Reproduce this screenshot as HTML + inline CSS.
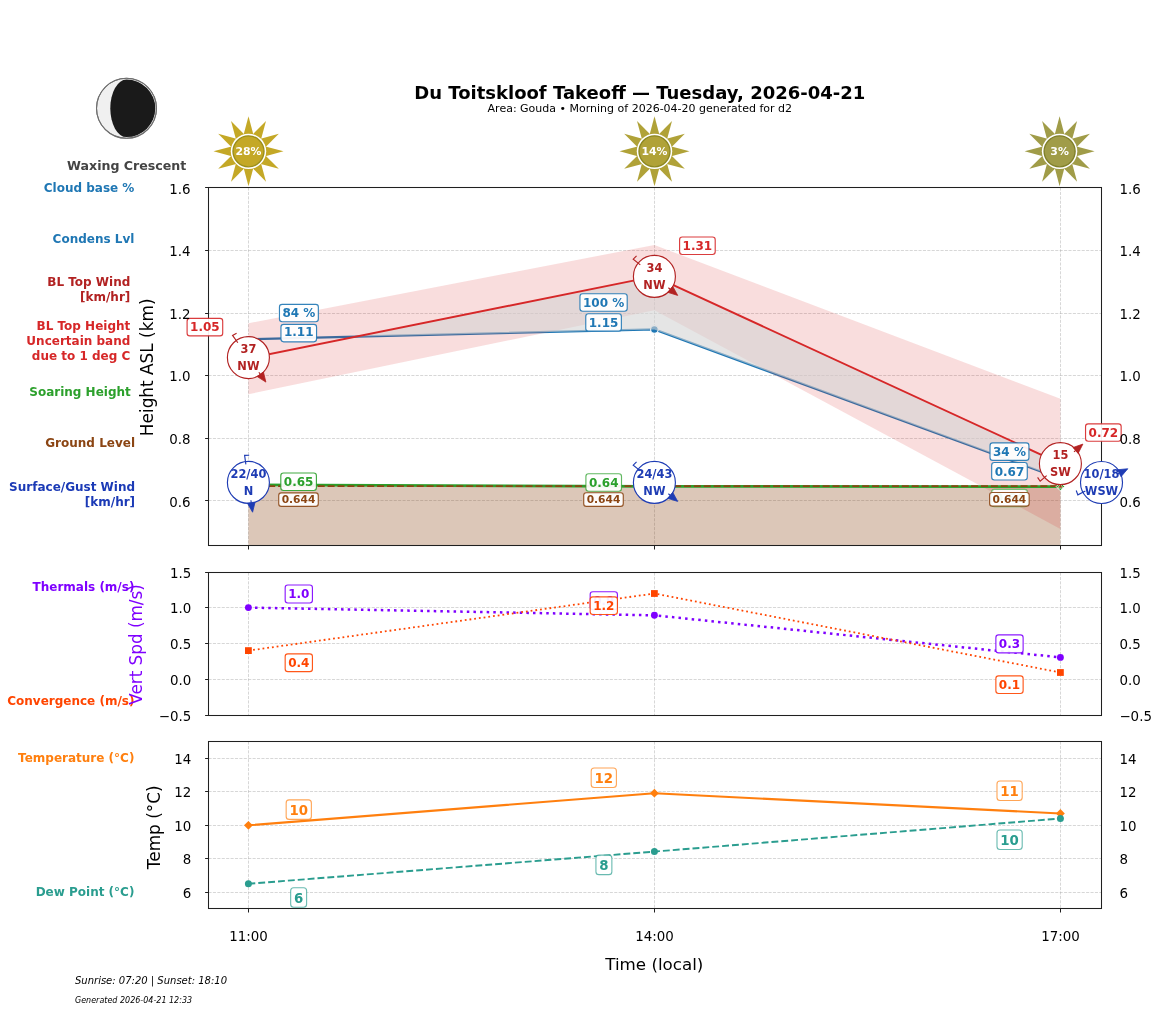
<!DOCTYPE html><html><head><meta charset="utf-8"><title>Du Toitskloof Takeoff</title><style>html,body{margin:0;padding:0;background:#fff}svg{display:block}</style></head><body><svg width="1157" height="1011" viewBox="0 0 1157 1011" font-family='"DejaVu Sans","Liberation Sans",sans-serif'>
<rect width="1157" height="1011" fill="#fff"/>
<text x="639.80" y="99.30" font-size="18" fill="#000" text-anchor="middle" font-weight="bold" font-style="normal" >Du Toitskloof Takeoff — Tuesday, 2026-04-21</text>
<text x="639.80" y="111.90" font-size="11.0" fill="#000" text-anchor="middle" font-weight="normal" font-style="normal" >Area: Gouda • Morning of 2026-04-20 generated for d2</text>
<circle cx="126.5" cy="108.3" r="30.0" fill="#f0f0f0" stroke="#777" stroke-width="1"/>
<path d="M126.5,79.5 A28.8,28.8 0 0 1 126.5,137.1 A16.2,28.8 0 0 1 126.5,79.5 Z" fill="#1a1a1a"/>
<circle cx="126.5" cy="108.3" r="30.0" fill="none" stroke="#6e6e6e" stroke-width="1.1"/>
<text x="126.70" y="170.00" font-size="12.6" fill="#444" text-anchor="middle" font-weight="bold" font-style="normal" >Waxing Crescent</text>
<polygon points="283.50,151.35 263.50,146.05 263.50,156.65" fill="#c4a826"/>
<polygon points="278.81,133.85 258.84,139.26 264.14,148.44" fill="#c4a826"/>
<polygon points="266.00,121.04 251.41,135.71 260.59,141.01" fill="#c4a826"/>
<polygon points="248.50,116.35 243.20,136.35 253.80,136.35" fill="#c4a826"/>
<polygon points="231.00,121.04 236.41,141.01 245.59,135.71" fill="#c4a826"/>
<polygon points="218.19,133.85 232.86,148.44 238.16,139.26" fill="#c4a826"/>
<polygon points="213.50,151.35 233.50,156.65 233.50,146.05" fill="#c4a826"/>
<polygon points="218.19,168.85 238.16,163.44 232.86,154.26" fill="#c4a826"/>
<polygon points="231.00,181.66 245.59,166.99 236.41,161.69" fill="#c4a826"/>
<polygon points="248.50,186.35 253.80,166.35 243.20,166.35" fill="#c4a826"/>
<polygon points="266.00,181.66 260.59,161.69 251.41,166.99" fill="#c4a826"/>
<polygon points="278.81,168.85 264.14,154.26 258.84,163.44" fill="#c4a826"/>
<circle cx="248.5" cy="151.35" r="17.7" fill="#fff"/>
<circle cx="248.5" cy="151.35" r="15.5" fill="#c4a826" stroke="#9a8e1c" stroke-width="1.4"/>
<text x="248.50" y="155.35" font-size="10.9" fill="#fff" text-anchor="middle" font-weight="bold" font-style="normal" >28%</text>
<polygon points="689.50,151.35 669.50,146.05 669.50,156.65" fill="#b0a238"/>
<polygon points="684.81,133.85 664.84,139.26 670.14,148.44" fill="#b0a238"/>
<polygon points="672.00,121.04 657.41,135.71 666.59,141.01" fill="#b0a238"/>
<polygon points="654.50,116.35 649.20,136.35 659.80,136.35" fill="#b0a238"/>
<polygon points="637.00,121.04 642.41,141.01 651.59,135.71" fill="#b0a238"/>
<polygon points="624.19,133.85 638.86,148.44 644.16,139.26" fill="#b0a238"/>
<polygon points="619.50,151.35 639.50,156.65 639.50,146.05" fill="#b0a238"/>
<polygon points="624.19,168.85 644.16,163.44 638.86,154.26" fill="#b0a238"/>
<polygon points="637.00,181.66 651.59,166.99 642.41,161.69" fill="#b0a238"/>
<polygon points="654.50,186.35 659.80,166.35 649.20,166.35" fill="#b0a238"/>
<polygon points="672.00,181.66 666.59,161.69 657.41,166.99" fill="#b0a238"/>
<polygon points="684.81,168.85 670.14,154.26 664.84,163.44" fill="#b0a238"/>
<circle cx="654.5" cy="151.35" r="17.7" fill="#fff"/>
<circle cx="654.5" cy="151.35" r="15.5" fill="#b0a238" stroke="#8c8722" stroke-width="1.4"/>
<text x="654.50" y="155.35" font-size="10.9" fill="#fff" text-anchor="middle" font-weight="bold" font-style="normal" >14%</text>
<polygon points="1094.60,151.35 1074.60,146.05 1074.60,156.65" fill="#a09c48"/>
<polygon points="1089.91,133.85 1069.94,139.26 1075.24,148.44" fill="#a09c48"/>
<polygon points="1077.10,121.04 1062.51,135.71 1071.69,141.01" fill="#a09c48"/>
<polygon points="1059.60,116.35 1054.30,136.35 1064.90,136.35" fill="#a09c48"/>
<polygon points="1042.10,121.04 1047.51,141.01 1056.69,135.71" fill="#a09c48"/>
<polygon points="1029.29,133.85 1043.96,148.44 1049.26,139.26" fill="#a09c48"/>
<polygon points="1024.60,151.35 1044.60,156.65 1044.60,146.05" fill="#a09c48"/>
<polygon points="1029.29,168.85 1049.26,163.44 1043.96,154.26" fill="#a09c48"/>
<polygon points="1042.10,181.66 1056.69,166.99 1047.51,161.69" fill="#a09c48"/>
<polygon points="1059.60,186.35 1064.90,166.35 1054.30,166.35" fill="#a09c48"/>
<polygon points="1077.10,181.66 1071.69,161.69 1062.51,166.99" fill="#a09c48"/>
<polygon points="1089.91,168.85 1075.24,154.26 1069.94,163.44" fill="#a09c48"/>
<circle cx="1059.6" cy="151.35" r="17.7" fill="#fff"/>
<circle cx="1059.6" cy="151.35" r="15.5" fill="#a09c48" stroke="#80802a" stroke-width="1.4"/>
<text x="1059.60" y="155.35" font-size="10.9" fill="#fff" text-anchor="middle" font-weight="bold" font-style="normal" >3%</text>
<text x="134.40" y="191.90" font-size="12" fill="#1f77b4" text-anchor="end" font-weight="bold" font-style="normal" >Cloud base %</text>
<text x="134.40" y="243.00" font-size="12" fill="#1f77b4" text-anchor="end" font-weight="bold" font-style="normal" >Condens Lvl</text>
<text x="130.30" y="285.60" font-size="12" fill="#b22222" text-anchor="end" font-weight="bold" font-style="normal" >BL Top Wind</text>
<text x="130.30" y="301.30" font-size="12" fill="#b22222" text-anchor="end" font-weight="bold" font-style="normal" >[km/hr]</text>
<text x="130.30" y="329.70" font-size="12" fill="#d62728" text-anchor="end" font-weight="bold" font-style="normal" >BL Top Height</text>
<text x="130.30" y="344.50" font-size="12" fill="#d62728" text-anchor="end" font-weight="bold" font-style="normal" >Uncertain band</text>
<text x="130.30" y="359.80" font-size="12" fill="#d62728" text-anchor="end" font-weight="bold" font-style="normal" >due to 1 deg C</text>
<text x="130.80" y="395.80" font-size="12" fill="#2ca02c" text-anchor="end" font-weight="bold" font-style="normal" >Soaring Height</text>
<text x="135.00" y="446.80" font-size="12" fill="#8b4513" text-anchor="end" font-weight="bold" font-style="normal" >Ground Level</text>
<text x="135.10" y="490.90" font-size="12" fill="#1b3ab6" text-anchor="end" font-weight="bold" font-style="normal" >Surface/Gust Wind</text>
<text x="135.10" y="505.90" font-size="12" fill="#1b3ab6" text-anchor="end" font-weight="bold" font-style="normal" >[km/hr]</text>
<text x="134.40" y="590.80" font-size="12" fill="#7f00ff" text-anchor="end" font-weight="bold" font-style="normal" >Thermals (m/s)</text>
<text x="134.40" y="704.80" font-size="12" fill="#ff4500" text-anchor="end" font-weight="bold" font-style="normal" >Convergence (m/s)</text>
<text x="134.40" y="761.80" font-size="12" fill="#ff7f0e" text-anchor="end" font-weight="bold" font-style="normal" >Temperature (°C)</text>
<text x="134.40" y="895.60" font-size="12" fill="#2a9d8f" text-anchor="end" font-weight="bold" font-style="normal" >Dew Point (°C)</text>
<line x1="248.50" y1="187.50" x2="248.50" y2="545.50" stroke="#b0b0b0" stroke-width="0.85" stroke-dasharray="3.08 1.33" stroke-opacity="0.6"/>
<line x1="654.50" y1="187.50" x2="654.50" y2="545.50" stroke="#b0b0b0" stroke-width="0.85" stroke-dasharray="3.08 1.33" stroke-opacity="0.6"/>
<line x1="1060.50" y1="187.50" x2="1060.50" y2="545.50" stroke="#b0b0b0" stroke-width="0.85" stroke-dasharray="3.08 1.33" stroke-opacity="0.6"/>
<line x1="208.50" y1="500.50" x2="1101.50" y2="500.50" stroke="#b0b0b0" stroke-width="0.85" stroke-dasharray="3.08 1.33" stroke-opacity="0.6"/>
<line x1="208.50" y1="438.50" x2="1101.50" y2="438.50" stroke="#b0b0b0" stroke-width="0.85" stroke-dasharray="3.08 1.33" stroke-opacity="0.6"/>
<line x1="208.50" y1="375.50" x2="1101.50" y2="375.50" stroke="#b0b0b0" stroke-width="0.85" stroke-dasharray="3.08 1.33" stroke-opacity="0.6"/>
<line x1="208.50" y1="313.50" x2="1101.50" y2="313.50" stroke="#b0b0b0" stroke-width="0.85" stroke-dasharray="3.08 1.33" stroke-opacity="0.6"/>
<line x1="208.50" y1="250.50" x2="1101.50" y2="250.50" stroke="#b0b0b0" stroke-width="0.85" stroke-dasharray="3.08 1.33" stroke-opacity="0.6"/>
<line x1="208.50" y1="187.50" x2="1101.50" y2="187.50" stroke="#b0b0b0" stroke-width="0.85" stroke-dasharray="3.08 1.33" stroke-opacity="0.6"/>
<clipPath id="cm"><rect x="208.5" y="187.5" width="893.0" height="358.0"/></clipPath>
<g clip-path="url(#cm)">
<rect x="248.4" y="486.30" width="812.0000000000001" height="64.20" fill="#8b4513" fill-opacity="0.30"/>
<polyline points="248.4,339.2 654.4,329.4 1060.4,478.7" fill="none" stroke="#1f77b4" stroke-width="2.2" stroke-linejoin="round" />
<circle cx="248.4" cy="339.2" r="3.8" fill="#1f77b4" stroke="#fff" stroke-width="1.1"/>
<circle cx="654.4" cy="329.4" r="3.8" fill="#1f77b4" stroke="#fff" stroke-width="1.1"/>
<circle cx="1060.4" cy="478.7" r="3.8" fill="#1f77b4" stroke="#fff" stroke-width="1.1"/>
<polygon points="248.4,323.3 654.4,245.0 1060.4,398.8 1060.4,528.9 654.4,310.2 248.4,394.2" fill="#d62728" fill-opacity="0.155"/>
<polygon points="356.8,336.6 654.4,276.4 1060.4,463.6 1060.4,478.7 654.4,329.4" fill="#d3d3d3" fill-opacity="0.6"/>
<polyline points="248.4,358.5 654.4,276.4 1060.4,463.6" fill="none" stroke="#d62728" stroke-width="1.95" stroke-linejoin="round" />
<polyline points="248.4,484.9 654.4,486.4 1060.4,486.6" fill="none" stroke="#2ca02c" stroke-width="2.7" stroke-linejoin="round" />
<polyline points="248.4,486.1 1060.4,486.1" fill="none" stroke="#8b4513" stroke-width="1.6" stroke-linejoin="round" stroke-dasharray="7.0 2.9"/>
</g>
<polygon points="244.20,484.90 248.40,480.70 252.60,484.90 248.40,489.10" fill="#2ca02c" stroke="#fff" stroke-width="0.9"/>
<polygon points="650.20,486.40 654.40,482.20 658.60,486.40 654.40,490.60" fill="#2ca02c" stroke="#fff" stroke-width="0.9"/>
<polygon points="1056.20,486.60 1060.40,482.40 1064.60,486.60 1060.40,490.80" fill="#2ca02c" stroke="#fff" stroke-width="0.9"/>
<polygon points="245.80,488.10 248.40,483.70 251.00,488.10" fill="#8b4513" stroke="#fff" stroke-width="0.6"/>
<polygon points="651.80,488.10 654.40,483.70 657.00,488.10" fill="#8b4513" stroke="#fff" stroke-width="0.6"/>
<polygon points="1057.80,488.10 1060.40,483.70 1063.00,488.10" fill="#8b4513" stroke="#fff" stroke-width="0.6"/>
<rect x="208.5" y="187.5" width="893.0" height="358.0" fill="none" stroke="#202020" stroke-width="1.05"/>
<line x1="248.50" y1="545.50" x2="248.50" y2="549.50" stroke="#202020" stroke-width="1.05" />
<line x1="654.50" y1="545.50" x2="654.50" y2="549.50" stroke="#202020" stroke-width="1.05" />
<line x1="1060.50" y1="545.50" x2="1060.50" y2="549.50" stroke="#202020" stroke-width="1.05" />
<line x1="205.10" y1="500.50" x2="208.50" y2="500.50" stroke="#202020" stroke-width="1.05" />
<line x1="205.10" y1="438.50" x2="208.50" y2="438.50" stroke="#202020" stroke-width="1.05" />
<line x1="205.10" y1="375.50" x2="208.50" y2="375.50" stroke="#202020" stroke-width="1.05" />
<line x1="205.10" y1="313.50" x2="208.50" y2="313.50" stroke="#202020" stroke-width="1.05" />
<line x1="205.10" y1="250.50" x2="208.50" y2="250.50" stroke="#202020" stroke-width="1.05" />
<line x1="205.10" y1="187.50" x2="208.50" y2="187.50" stroke="#202020" stroke-width="1.05" />
<rect x="279.45" y="304.33" width="38.90" height="17.42" rx="2.70" fill="#fff" fill-opacity="0.93" stroke="#1f77b4" stroke-opacity="0.9" stroke-width="1.15"/>
<text x="298.90" y="316.50" font-size="12.0" fill="#1f77b4" text-anchor="middle" font-weight="bold" font-style="normal" >84 %</text>
<rect x="280.95" y="324.38" width="35.61" height="17.42" rx="2.70" fill="#fff" fill-opacity="0.93" stroke="#1f77b4" stroke-opacity="0.9" stroke-width="1.15"/>
<text x="298.75" y="336.45" font-size="12.0" fill="#1f77b4" text-anchor="middle" font-weight="bold" font-style="normal" >1.11</text>
<rect x="187.10" y="318.43" width="35.61" height="17.42" rx="2.70" fill="#fff" fill-opacity="0.93" stroke="#d62728" stroke-opacity="0.9" stroke-width="1.15"/>
<text x="204.90" y="330.50" font-size="12.0" fill="#d62728" text-anchor="middle" font-weight="bold" font-style="normal" >1.05</text>
<rect x="579.95" y="293.78" width="47.25" height="17.42" rx="2.70" fill="#fff" fill-opacity="0.93" stroke="#1f77b4" stroke-opacity="0.9" stroke-width="1.15"/>
<text x="603.57" y="306.75" font-size="12.0" fill="#1f77b4" text-anchor="middle" font-weight="bold" font-style="normal" >100 %</text>
<rect x="585.76" y="313.73" width="35.61" height="17.42" rx="2.70" fill="#fff" fill-opacity="0.93" stroke="#1f77b4" stroke-opacity="0.9" stroke-width="1.15"/>
<text x="603.56" y="326.70" font-size="12.0" fill="#1f77b4" text-anchor="middle" font-weight="bold" font-style="normal" >1.15</text>
<rect x="679.60" y="237.03" width="35.61" height="17.42" rx="2.70" fill="#fff" fill-opacity="0.93" stroke="#d62728" stroke-opacity="0.9" stroke-width="1.15"/>
<text x="697.40" y="250.00" font-size="12.0" fill="#d62728" text-anchor="middle" font-weight="bold" font-style="normal" >1.31</text>
<rect x="990.02" y="442.93" width="38.90" height="17.42" rx="2.70" fill="#fff" fill-opacity="0.93" stroke="#1f77b4" stroke-opacity="0.9" stroke-width="1.15"/>
<text x="1009.47" y="455.90" font-size="12.0" fill="#1f77b4" text-anchor="middle" font-weight="bold" font-style="normal" >34 %</text>
<rect x="991.67" y="462.53" width="35.61" height="17.42" rx="2.70" fill="#fff" fill-opacity="0.93" stroke="#1f77b4" stroke-opacity="0.9" stroke-width="1.15"/>
<text x="1009.47" y="475.50" font-size="12.0" fill="#1f77b4" text-anchor="middle" font-weight="bold" font-style="normal" >0.67</text>
<rect x="1085.55" y="423.83" width="35.61" height="17.42" rx="2.70" fill="#fff" fill-opacity="0.93" stroke="#d62728" stroke-opacity="0.9" stroke-width="1.15"/>
<text x="1103.35" y="436.80" font-size="12.0" fill="#d62728" text-anchor="middle" font-weight="bold" font-style="normal" >0.72</text>
<rect x="280.80" y="473.03" width="35.61" height="17.42" rx="2.70" fill="#fff" fill-opacity="0.93" stroke="#2ca02c" stroke-opacity="0.9" stroke-width="1.15"/>
<text x="298.60" y="486.00" font-size="12.0" fill="#2ca02c" text-anchor="middle" font-weight="bold" font-style="normal" >0.65</text>
<rect x="585.90" y="473.78" width="35.61" height="17.42" rx="2.70" fill="#fff" fill-opacity="0.93" stroke="#2ca02c" stroke-opacity="0.75" stroke-width="1.15"/>
<text x="603.70" y="486.75" font-size="12.0" fill="#2ca02c" text-anchor="middle" font-weight="bold" font-style="normal" >0.64</text>
<rect x="991.70" y="489.33" width="35.61" height="17.42" rx="2.70" fill="#fff" fill-opacity="0.93" stroke="#2ca02c" stroke-opacity="0.6" stroke-width="1.15"/>
<text x="1009.50" y="502.30" font-size="12.0" fill="#2ca02c" text-anchor="middle" font-weight="bold" font-style="normal" >0.64</text>
<rect x="278.72" y="492.80" width="39.55" height="13.60" rx="2.60" fill="#fff" fill-opacity="0.93" stroke="#8b4513" stroke-opacity="0.9" stroke-width="1.15"/>
<text x="298.50" y="502.90" font-size="10.67" fill="#8b4513" text-anchor="middle" font-weight="bold" font-style="normal" >0.644</text>
<rect x="583.72" y="492.70" width="39.55" height="13.60" rx="2.60" fill="#fff" fill-opacity="0.93" stroke="#8b4513" stroke-opacity="0.9" stroke-width="1.15"/>
<text x="603.50" y="502.80" font-size="10.67" fill="#8b4513" text-anchor="middle" font-weight="bold" font-style="normal" >0.644</text>
<rect x="989.62" y="492.50" width="39.55" height="13.60" rx="2.60" fill="#fff" fill-opacity="0.93" stroke="#8b4513" stroke-opacity="0.9" stroke-width="1.15"/>
<text x="1009.40" y="502.60" font-size="10.67" fill="#8b4513" text-anchor="middle" font-weight="bold" font-style="normal" >0.644</text>
<circle cx="248.40" cy="357.60" r="21.0" fill="#fff" stroke="#b22222" stroke-width="1.15"/>
<polyline points="237.83,342.78 232.55,335.37 236.59,333.18" fill="none" stroke="#b22222" stroke-width="1.15" stroke-linejoin="miter"/>
<line x1="258.85" y1="372.25" x2="260.25" y2="374.21" stroke="#b22222" stroke-width="1.15"/>
<polygon points="265.88,382.10 257.07,376.47 263.42,371.94" fill="#b22222" stroke="#b22222" stroke-width="0.8" stroke-linejoin="miter"/>
<text x="248.40" y="353.30" font-size="11.4" fill="#b22222" text-anchor="middle" font-weight="bold" font-style="normal" >37</text>
<text x="248.40" y="370.05" font-size="11.4" fill="#b22222" text-anchor="middle" font-weight="bold" font-style="normal" >NW</text>
<circle cx="654.40" cy="276.40" r="21.0" fill="#fff" stroke="#b22222" stroke-width="1.15"/>
<polyline points="640.30,264.90 633.24,259.15 636.56,255.96" fill="none" stroke="#b22222" stroke-width="1.15" stroke-linejoin="miter"/>
<line x1="668.35" y1="287.78" x2="670.21" y2="289.29" stroke="#b22222" stroke-width="1.15"/>
<polygon points="677.73,295.42 667.74,292.32 672.67,286.27" fill="#b22222" stroke="#b22222" stroke-width="0.8" stroke-linejoin="miter"/>
<text x="654.40" y="272.10" font-size="11.4" fill="#b22222" text-anchor="middle" font-weight="bold" font-style="normal" >34</text>
<text x="654.40" y="288.85" font-size="11.4" fill="#b22222" text-anchor="middle" font-weight="bold" font-style="normal" >NW</text>
<circle cx="1060.40" cy="463.65" r="21.0" fill="#fff" stroke="#b22222" stroke-width="1.15"/>
<polyline points="1046.66,475.59 1040.17,481.23 1037.60,477.42" fill="none" stroke="#b22222" stroke-width="1.15" stroke-linejoin="miter"/>
<line x1="1073.98" y1="451.84" x2="1075.57" y2="450.46" stroke="#b22222" stroke-width="1.15"/>
<polygon points="1082.89,444.10 1078.13,453.41 1073.01,447.52" fill="#b22222" stroke="#b22222" stroke-width="0.8" stroke-linejoin="miter"/>
<text x="1060.40" y="459.35" font-size="11.4" fill="#b22222" text-anchor="middle" font-weight="bold" font-style="normal" >15</text>
<text x="1060.40" y="476.10" font-size="11.4" fill="#b22222" text-anchor="middle" font-weight="bold" font-style="normal" >SW</text>
<circle cx="248.40" cy="482.40" r="21.0" fill="#fff" stroke="#1e3cb4" stroke-width="1.15"/>
<polyline points="245.87,464.38 244.60,455.37 249.20,455.29" fill="none" stroke="#1e3cb4" stroke-width="1.15" stroke-linejoin="miter"/>
<line x1="250.91" y1="500.22" x2="251.24" y2="502.60" stroke="#1e3cb4" stroke-width="1.15"/>
<polygon points="252.59,512.21 247.38,503.14 255.10,502.06" fill="#1e3cb4" stroke="#1e3cb4" stroke-width="0.8" stroke-linejoin="miter"/>
<text x="248.40" y="478.10" font-size="11.4" fill="#1e3cb4" text-anchor="middle" font-weight="bold" font-style="normal" >22/40</text>
<text x="248.40" y="494.85" font-size="11.4" fill="#1e3cb4" text-anchor="middle" font-weight="bold" font-style="normal" >N</text>
<circle cx="654.40" cy="482.40" r="21.0" fill="#fff" stroke="#1e3cb4" stroke-width="1.15"/>
<polyline points="640.30,470.90 633.24,465.15 636.56,461.96" fill="none" stroke="#1e3cb4" stroke-width="1.15" stroke-linejoin="miter"/>
<line x1="668.35" y1="493.78" x2="670.21" y2="495.29" stroke="#1e3cb4" stroke-width="1.15"/>
<polygon points="677.73,501.42 667.74,498.32 672.67,492.27" fill="#1e3cb4" stroke="#1e3cb4" stroke-width="0.8" stroke-linejoin="miter"/>
<text x="654.40" y="478.10" font-size="11.4" fill="#1e3cb4" text-anchor="middle" font-weight="bold" font-style="normal" >24/43</text>
<text x="654.40" y="494.85" font-size="11.4" fill="#1e3cb4" text-anchor="middle" font-weight="bold" font-style="normal" >NW</text>
<circle cx="1101.50" cy="482.50" r="21.0" fill="#fff" stroke="#1e3cb4" stroke-width="1.15"/>
<polyline points="1085.37,490.93 1077.84,494.87 1076.22,490.56" fill="none" stroke="#1e3cb4" stroke-width="1.15" stroke-linejoin="miter"/>
<line x1="1117.45" y1="474.16" x2="1119.22" y2="473.23" stroke="#1e3cb4" stroke-width="1.15"/>
<polygon points="1127.82,468.74 1121.03,476.69 1117.42,469.78" fill="#1e3cb4" stroke="#1e3cb4" stroke-width="0.8" stroke-linejoin="miter"/>
<text x="1101.50" y="478.20" font-size="11.4" fill="#1e3cb4" text-anchor="middle" font-weight="bold" font-style="normal" >10/18</text>
<text x="1101.50" y="494.95" font-size="11.4" fill="#1e3cb4" text-anchor="middle" font-weight="bold" font-style="normal" >WSW</text>
<text x="190.50" y="506.70" font-size="13.4" fill="#000" text-anchor="end" font-weight="normal" font-style="normal" >0.6</text>
<text x="1119.40" y="506.70" font-size="13.4" fill="#000" text-anchor="start" font-weight="normal" font-style="normal" >0.6</text>
<text x="190.50" y="443.70" font-size="13.4" fill="#000" text-anchor="end" font-weight="normal" font-style="normal" >0.8</text>
<text x="1119.40" y="443.70" font-size="13.4" fill="#000" text-anchor="start" font-weight="normal" font-style="normal" >0.8</text>
<text x="190.50" y="380.70" font-size="13.4" fill="#000" text-anchor="end" font-weight="normal" font-style="normal" >1.0</text>
<text x="1119.40" y="380.70" font-size="13.4" fill="#000" text-anchor="start" font-weight="normal" font-style="normal" >1.0</text>
<text x="190.50" y="318.70" font-size="13.4" fill="#000" text-anchor="end" font-weight="normal" font-style="normal" >1.2</text>
<text x="1119.40" y="318.70" font-size="13.4" fill="#000" text-anchor="start" font-weight="normal" font-style="normal" >1.2</text>
<text x="190.50" y="255.70" font-size="13.4" fill="#000" text-anchor="end" font-weight="normal" font-style="normal" >1.4</text>
<text x="1119.40" y="255.70" font-size="13.4" fill="#000" text-anchor="start" font-weight="normal" font-style="normal" >1.4</text>
<text x="190.50" y="193.50" font-size="13.4" fill="#000" text-anchor="end" font-weight="normal" font-style="normal" >1.6</text>
<text x="1119.40" y="193.50" font-size="13.4" fill="#000" text-anchor="start" font-weight="normal" font-style="normal" >1.6</text>
<text transform="translate(152.6,367.3) rotate(-90)" font-size="16.9" text-anchor="middle">Height ASL (km)</text>
<line x1="248.50" y1="572.50" x2="248.50" y2="715.50" stroke="#b0b0b0" stroke-width="0.85" stroke-dasharray="3.08 1.33" stroke-opacity="0.6"/>
<line x1="654.50" y1="572.50" x2="654.50" y2="715.50" stroke="#b0b0b0" stroke-width="0.85" stroke-dasharray="3.08 1.33" stroke-opacity="0.6"/>
<line x1="1060.50" y1="572.50" x2="1060.50" y2="715.50" stroke="#b0b0b0" stroke-width="0.85" stroke-dasharray="3.08 1.33" stroke-opacity="0.6"/>
<line x1="208.50" y1="715.50" x2="1101.50" y2="715.50" stroke="#b0b0b0" stroke-width="0.85" stroke-dasharray="3.08 1.33" stroke-opacity="0.6"/>
<line x1="208.50" y1="679.50" x2="1101.50" y2="679.50" stroke="#b0b0b0" stroke-width="0.85" stroke-dasharray="3.08 1.33" stroke-opacity="0.6"/>
<line x1="208.50" y1="643.50" x2="1101.50" y2="643.50" stroke="#b0b0b0" stroke-width="0.85" stroke-dasharray="3.08 1.33" stroke-opacity="0.6"/>
<line x1="208.50" y1="607.50" x2="1101.50" y2="607.50" stroke="#b0b0b0" stroke-width="0.85" stroke-dasharray="3.08 1.33" stroke-opacity="0.6"/>
<line x1="208.50" y1="572.50" x2="1101.50" y2="572.50" stroke="#b0b0b0" stroke-width="0.85" stroke-dasharray="3.08 1.33" stroke-opacity="0.6"/>
<polyline points="248.4,607.6 654.4,615.3 1060.4,657.4" fill="none" stroke="#7f00ff" stroke-width="2.5" stroke-linejoin="round" stroke-dasharray="2.5 4.12"/>
<polyline points="248.4,650.6 654.4,593.5 1060.4,672.5" fill="none" stroke="#ff4500" stroke-width="1.8" stroke-linejoin="round" stroke-dasharray="1.8 2.95"/>
<circle cx="248.4" cy="607.60" r="3.45" fill="#7f00ff"/>
<circle cx="654.4" cy="615.30" r="3.45" fill="#7f00ff"/>
<circle cx="1060.4" cy="657.40" r="3.45" fill="#7f00ff"/>
<rect x="245.00" y="647.20" width="6.8" height="6.8" fill="#ff4500"/>
<rect x="651.00" y="590.10" width="6.8" height="6.8" fill="#ff4500"/>
<rect x="1057.00" y="669.10" width="6.8" height="6.8" fill="#ff4500"/>
<rect x="208.5" y="572.5" width="893.0" height="143.0" fill="none" stroke="#202020" stroke-width="1.05"/>
<line x1="205.10" y1="715.50" x2="208.50" y2="715.50" stroke="#202020" stroke-width="1.05" />
<line x1="205.10" y1="679.50" x2="208.50" y2="679.50" stroke="#202020" stroke-width="1.05" />
<line x1="205.10" y1="643.50" x2="208.50" y2="643.50" stroke="#202020" stroke-width="1.05" />
<line x1="205.10" y1="607.50" x2="208.50" y2="607.50" stroke="#202020" stroke-width="1.05" />
<line x1="205.10" y1="572.50" x2="208.50" y2="572.50" stroke="#202020" stroke-width="1.05" />
<rect x="285.17" y="585.03" width="27.26" height="17.97" rx="2.70" fill="#fff" fill-opacity="0.93" stroke="#7f00ff" stroke-opacity="0.9" stroke-width="1.15"/>
<text x="298.80" y="598.00" font-size="12.0" fill="#7f00ff" text-anchor="middle" font-weight="bold" font-style="normal" >1.0</text>
<rect x="590.17" y="591.73" width="27.26" height="17.97" rx="2.70" fill="#fff" fill-opacity="0.93" stroke="#7f00ff" stroke-opacity="0.9" stroke-width="1.15"/>
<text x="603.80" y="604.70" font-size="12.0" fill="#7f00ff" text-anchor="middle" font-weight="bold" font-style="normal" >0.9</text>
<rect x="995.87" y="634.93" width="27.26" height="17.97" rx="2.70" fill="#fff" fill-opacity="0.93" stroke="#7f00ff" stroke-opacity="0.9" stroke-width="1.15"/>
<text x="1009.50" y="647.90" font-size="12.0" fill="#7f00ff" text-anchor="middle" font-weight="bold" font-style="normal" >0.3</text>
<rect x="285.17" y="653.83" width="27.26" height="17.77" rx="2.70" fill="#fff" fill-opacity="0.93" stroke="#ff4500" stroke-opacity="0.9" stroke-width="1.15"/>
<text x="298.80" y="666.80" font-size="12.0" fill="#ff4500" text-anchor="middle" font-weight="bold" font-style="normal" >0.4</text>
<rect x="590.17" y="596.83" width="27.26" height="17.67" rx="2.70" fill="#fff" fill-opacity="0.93" stroke="#ff4500" stroke-opacity="0.9" stroke-width="1.15"/>
<text x="603.80" y="609.80" font-size="12.0" fill="#ff4500" text-anchor="middle" font-weight="bold" font-style="normal" >1.2</text>
<rect x="995.87" y="675.83" width="27.26" height="17.67" rx="2.70" fill="#fff" fill-opacity="0.93" stroke="#ff4500" stroke-opacity="0.9" stroke-width="1.15"/>
<text x="1009.50" y="688.80" font-size="12.0" fill="#ff4500" text-anchor="middle" font-weight="bold" font-style="normal" >0.1</text>
<text x="191.30" y="720.70" font-size="13.4" fill="#000" text-anchor="end" font-weight="normal" font-style="normal" >−0.5</text>
<text x="1119.40" y="720.70" font-size="13.4" fill="#000" text-anchor="start" font-weight="normal" font-style="normal" >−0.5</text>
<text x="191.30" y="684.70" font-size="13.4" fill="#000" text-anchor="end" font-weight="normal" font-style="normal" >0.0</text>
<text x="1119.40" y="684.70" font-size="13.4" fill="#000" text-anchor="start" font-weight="normal" font-style="normal" >0.0</text>
<text x="191.30" y="648.70" font-size="13.4" fill="#000" text-anchor="end" font-weight="normal" font-style="normal" >0.5</text>
<text x="1119.40" y="648.70" font-size="13.4" fill="#000" text-anchor="start" font-weight="normal" font-style="normal" >0.5</text>
<text x="191.30" y="612.70" font-size="13.4" fill="#000" text-anchor="end" font-weight="normal" font-style="normal" >1.0</text>
<text x="1119.40" y="612.70" font-size="13.4" fill="#000" text-anchor="start" font-weight="normal" font-style="normal" >1.0</text>
<text x="191.30" y="577.70" font-size="13.4" fill="#000" text-anchor="end" font-weight="normal" font-style="normal" >1.5</text>
<text x="1119.40" y="577.70" font-size="13.4" fill="#000" text-anchor="start" font-weight="normal" font-style="normal" >1.5</text>
<text transform="translate(141.8,644.5) rotate(-90)" font-size="16.8" text-anchor="middle" fill="#7f00ff">Vert Spd (m/s)</text>
<line x1="248.50" y1="741.50" x2="248.50" y2="908.50" stroke="#b0b0b0" stroke-width="0.85" stroke-dasharray="3.08 1.33" stroke-opacity="0.6"/>
<line x1="654.50" y1="741.50" x2="654.50" y2="908.50" stroke="#b0b0b0" stroke-width="0.85" stroke-dasharray="3.08 1.33" stroke-opacity="0.6"/>
<line x1="1060.50" y1="741.50" x2="1060.50" y2="908.50" stroke="#b0b0b0" stroke-width="0.85" stroke-dasharray="3.08 1.33" stroke-opacity="0.6"/>
<line x1="208.50" y1="892.50" x2="1101.50" y2="892.50" stroke="#b0b0b0" stroke-width="0.85" stroke-dasharray="3.08 1.33" stroke-opacity="0.6"/>
<line x1="208.50" y1="858.50" x2="1101.50" y2="858.50" stroke="#b0b0b0" stroke-width="0.85" stroke-dasharray="3.08 1.33" stroke-opacity="0.6"/>
<line x1="208.50" y1="825.50" x2="1101.50" y2="825.50" stroke="#b0b0b0" stroke-width="0.85" stroke-dasharray="3.08 1.33" stroke-opacity="0.6"/>
<line x1="208.50" y1="791.50" x2="1101.50" y2="791.50" stroke="#b0b0b0" stroke-width="0.85" stroke-dasharray="3.08 1.33" stroke-opacity="0.6"/>
<line x1="208.50" y1="758.50" x2="1101.50" y2="758.50" stroke="#b0b0b0" stroke-width="0.85" stroke-dasharray="3.08 1.33" stroke-opacity="0.6"/>
<polyline points="248.4,883.8 654.4,851.6 1060.4,818.5" fill="none" stroke="#2a9d8f" stroke-width="1.9" stroke-linejoin="round" stroke-dasharray="6.9 3.0"/>
<polyline points="248.4,825.3 654.4,793.2 1060.4,813.5" fill="none" stroke="#ff7f0e" stroke-width="2.1" stroke-linejoin="round" />
<polygon points="244.00,825.30 248.40,820.90 252.80,825.30 248.40,829.70" fill="#ff7f0e"/>
<polygon points="650.00,793.20 654.40,788.80 658.80,793.20 654.40,797.60" fill="#ff7f0e"/>
<polygon points="1056.00,813.50 1060.40,809.10 1064.80,813.50 1060.40,817.90" fill="#ff7f0e"/>
<circle cx="248.4" cy="883.80" r="3.5" fill="#2a9d8f"/>
<circle cx="654.4" cy="851.60" r="3.5" fill="#2a9d8f"/>
<circle cx="1060.4" cy="818.50" r="3.5" fill="#2a9d8f"/>
<rect x="208.5" y="741.5" width="893.0" height="167.0" fill="none" stroke="#202020" stroke-width="1.05"/>
<line x1="248.50" y1="908.50" x2="248.50" y2="912.50" stroke="#202020" stroke-width="1.05" />
<line x1="654.50" y1="908.50" x2="654.50" y2="912.50" stroke="#202020" stroke-width="1.05" />
<line x1="1060.50" y1="908.50" x2="1060.50" y2="912.50" stroke="#202020" stroke-width="1.05" />
<line x1="205.10" y1="892.50" x2="208.50" y2="892.50" stroke="#202020" stroke-width="1.05" />
<line x1="205.10" y1="858.50" x2="208.50" y2="858.50" stroke="#202020" stroke-width="1.05" />
<line x1="205.10" y1="825.50" x2="208.50" y2="825.50" stroke="#202020" stroke-width="1.05" />
<line x1="205.10" y1="791.50" x2="208.50" y2="791.50" stroke="#202020" stroke-width="1.05" />
<line x1="205.10" y1="758.50" x2="208.50" y2="758.50" stroke="#202020" stroke-width="1.05" />
<rect x="286.16" y="799.90" width="25.21" height="19.50" rx="3.00" fill="#fff" fill-opacity="0.93" stroke="#ff7f0e" stroke-opacity="0.7" stroke-width="1.1"/>
<text x="298.77" y="814.75" font-size="13.33" fill="#ff7f0e" text-anchor="middle" font-weight="bold" font-style="normal" >10</text>
<rect x="591.19" y="768.05" width="25.21" height="19.50" rx="3.00" fill="#fff" fill-opacity="0.93" stroke="#ff7f0e" stroke-opacity="0.7" stroke-width="1.1"/>
<text x="603.80" y="782.90" font-size="13.33" fill="#ff7f0e" text-anchor="middle" font-weight="bold" font-style="normal" >12</text>
<rect x="996.99" y="780.95" width="25.21" height="19.50" rx="3.00" fill="#fff" fill-opacity="0.93" stroke="#ff7f0e" stroke-opacity="0.7" stroke-width="1.1"/>
<text x="1009.60" y="795.80" font-size="13.33" fill="#ff7f0e" text-anchor="middle" font-weight="bold" font-style="normal" >11</text>
<rect x="290.67" y="887.75" width="15.94" height="19.50" rx="3.00" fill="#fff" fill-opacity="0.93" stroke="#2a9d8f" stroke-opacity="0.7" stroke-width="1.1"/>
<text x="298.64" y="902.60" font-size="13.33" fill="#2a9d8f" text-anchor="middle" font-weight="bold" font-style="normal" >6</text>
<rect x="595.93" y="855.15" width="15.94" height="19.50" rx="3.00" fill="#fff" fill-opacity="0.93" stroke="#2a9d8f" stroke-opacity="0.7" stroke-width="1.1"/>
<text x="603.90" y="870.00" font-size="13.33" fill="#2a9d8f" text-anchor="middle" font-weight="bold" font-style="normal" >8</text>
<rect x="996.99" y="829.95" width="25.21" height="19.50" rx="3.00" fill="#fff" fill-opacity="0.93" stroke="#2a9d8f" stroke-opacity="0.7" stroke-width="1.1"/>
<text x="1009.60" y="844.80" font-size="13.33" fill="#2a9d8f" text-anchor="middle" font-weight="bold" font-style="normal" >10</text>
<text x="191.30" y="897.70" font-size="13.4" fill="#000" text-anchor="end" font-weight="normal" font-style="normal" >6</text>
<text x="1119.40" y="897.70" font-size="13.4" fill="#000" text-anchor="start" font-weight="normal" font-style="normal" >6</text>
<text x="191.30" y="863.70" font-size="13.4" fill="#000" text-anchor="end" font-weight="normal" font-style="normal" >8</text>
<text x="1119.40" y="863.70" font-size="13.4" fill="#000" text-anchor="start" font-weight="normal" font-style="normal" >8</text>
<text x="191.30" y="830.70" font-size="13.4" fill="#000" text-anchor="end" font-weight="normal" font-style="normal" >10</text>
<text x="1119.40" y="830.70" font-size="13.4" fill="#000" text-anchor="start" font-weight="normal" font-style="normal" >10</text>
<text x="191.30" y="796.70" font-size="13.4" fill="#000" text-anchor="end" font-weight="normal" font-style="normal" >12</text>
<text x="1119.40" y="796.70" font-size="13.4" fill="#000" text-anchor="start" font-weight="normal" font-style="normal" >12</text>
<text x="191.30" y="763.70" font-size="13.4" fill="#000" text-anchor="end" font-weight="normal" font-style="normal" >14</text>
<text x="1119.40" y="763.70" font-size="13.4" fill="#000" text-anchor="start" font-weight="normal" font-style="normal" >14</text>
<text transform="translate(159.8,827.3) rotate(-90)" font-size="16.9" text-anchor="middle">Temp (°C)</text>
<text x="248.50" y="941.20" font-size="13.4" fill="#000" text-anchor="middle" font-weight="normal" font-style="normal" >11:00</text>
<text x="654.50" y="941.20" font-size="13.4" fill="#000" text-anchor="middle" font-weight="normal" font-style="normal" >14:00</text>
<text x="1060.50" y="941.20" font-size="13.4" fill="#000" text-anchor="middle" font-weight="normal" font-style="normal" >17:00</text>
<text x="654.30" y="970.00" font-size="16.7" fill="#000" text-anchor="middle" font-weight="normal" font-style="normal" >Time (local)</text>
<text x="75.00" y="984.00" font-size="10.0" fill="#000" text-anchor="start" font-weight="normal" font-style="italic" >Sunrise: 07:20 | Sunset: 18:10</text>
<text x="75.00" y="1002.50" font-size="8.0" fill="#000" text-anchor="start" font-weight="normal" font-style="italic" >Generated 2026-04-21 12:33</text>
</svg></body></html>
